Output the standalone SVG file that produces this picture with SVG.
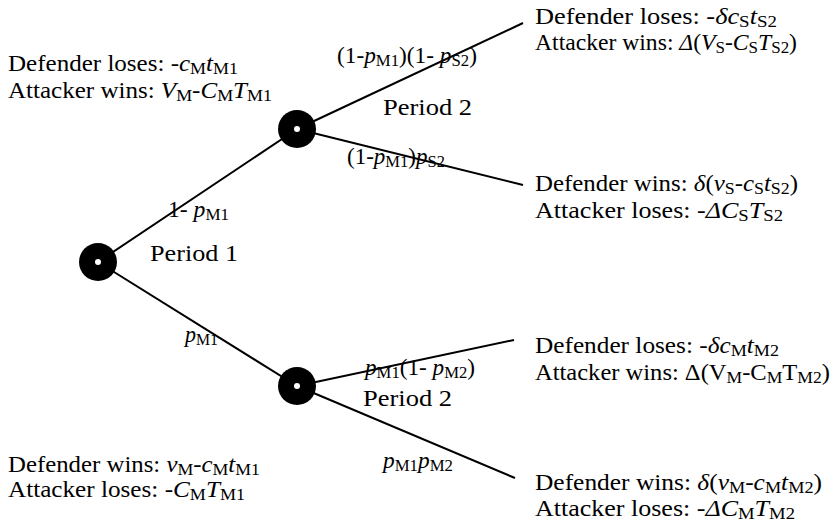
<svg xmlns="http://www.w3.org/2000/svg" width="836" height="528" viewBox="0 0 836 528">
<style>
text{font-family:"Liberation Serif","DejaVu Serif",serif;font-size:23px;fill:#000}
.i{font-style:italic}
.s{font-size:16.5px}
.edge{stroke:#000;stroke-width:2;fill:none}
.node{fill:#000}
.dot{fill:#fff}
</style>
<rect width="836" height="528" fill="#fff"/>
<g id="connectors">
<line class="edge" x1="98" y1="262" x2="297" y2="129"/>
<line class="edge" x1="98" y1="262" x2="297" y2="386"/>
<line class="edge" x1="297" y1="129" x2="523" y2="23"/>
<line class="edge" x1="297" y1="129" x2="523" y2="185"/>
<line class="edge" x1="297" y1="386" x2="514" y2="340"/>
<line class="edge" x1="297" y1="386" x2="515" y2="478"/>
</g>
<g id="n1"><circle class="node" cx="98" cy="262" r="19"/><circle class="dot" cx="98" cy="262" r="3"/></g>
<g id="n2"><circle class="node" cx="297" cy="129" r="19"/><circle class="dot" cx="297" cy="129" r="3"/></g>
<g id="n3"><circle class="node" cx="297" cy="386" r="19"/><circle class="dot" cx="297" cy="386" r="3"/></g>
<g id="labels">
<text x="8" y="71" textLength="230" lengthAdjust="spacingAndGlyphs">Defender loses: -<tspan class="i">c</tspan><tspan class="s" dy="3">M</tspan><tspan class="i" dy="-3">t</tspan><tspan class="s" dy="3">M1</tspan></text>
<text x="8" y="98" textLength="264" lengthAdjust="spacingAndGlyphs">Attacker wins: <tspan class="i">V</tspan><tspan class="s" dy="3">M</tspan><tspan dy="-3">-</tspan><tspan class="i">C</tspan><tspan class="s" dy="3">M</tspan><tspan class="i" dy="-3">T</tspan><tspan class="s" dy="3">M1</tspan></text>
<text x="168" y="217" textLength="61" lengthAdjust="spacingAndGlyphs">1- <tspan class="i">p</tspan><tspan class="s" dy="3">M1</tspan></text>
<text x="150" y="261" textLength="88" lengthAdjust="spacingAndGlyphs">Period 1</text>
<text x="185" y="342" textLength="33" lengthAdjust="spacingAndGlyphs"><tspan class="i">p</tspan><tspan class="s" dy="3">M1</tspan></text>
<text x="8" y="472" textLength="252" lengthAdjust="spacingAndGlyphs">Defender wins: <tspan class="i">v</tspan><tspan class="s" dy="3">M</tspan><tspan dy="-3">-</tspan><tspan class="i">c</tspan><tspan class="s" dy="3">M</tspan><tspan class="i" dy="-3">t</tspan><tspan class="s" dy="3">M1</tspan></text>
<text x="8" y="497" textLength="237" lengthAdjust="spacingAndGlyphs">Attacker loses: -<tspan class="i">C</tspan><tspan class="s" dy="3">M</tspan><tspan class="i" dy="-3">T</tspan><tspan class="s" dy="3">M1</tspan></text>
<text x="337" y="63" textLength="140" lengthAdjust="spacingAndGlyphs">(1-<tspan class="i">p</tspan><tspan class="s" dy="3">M1</tspan><tspan dy="-3">)(1- </tspan><tspan class="i">p</tspan><tspan class="s" dy="3">S2</tspan><tspan dy="-3">)</tspan></text>
<text x="383" y="115" textLength="89" lengthAdjust="spacingAndGlyphs">Period 2</text>
<text x="347" y="164" textLength="98" lengthAdjust="spacingAndGlyphs">(1-<tspan class="i">p</tspan><tspan class="s" dy="3">M1</tspan><tspan dy="-3">)</tspan><tspan class="i">p</tspan><tspan class="s" dy="3">S2</tspan></text>
<text x="535" y="24" textLength="242" lengthAdjust="spacingAndGlyphs">Defender loses: -<tspan class="i">δc</tspan><tspan class="s" dy="3">S</tspan><tspan class="i" dy="-3">t</tspan><tspan class="s" dy="3">S2</tspan></text>
<text x="535" y="50" textLength="262" lengthAdjust="spacingAndGlyphs">Attacker wins: <tspan class="i">Δ</tspan>(<tspan class="i">V</tspan><tspan class="s" dy="3">S</tspan><tspan dy="-3">-</tspan><tspan class="i">C</tspan><tspan class="s" dy="3">S</tspan><tspan class="i" dy="-3">T</tspan><tspan class="s" dy="3">S2</tspan><tspan dy="-3">)</tspan></text>
<text x="535" y="191" textLength="263" lengthAdjust="spacingAndGlyphs">Defender wins: <tspan class="i">δ</tspan>(<tspan class="i">v</tspan><tspan class="s" dy="3">S</tspan><tspan dy="-3">-</tspan><tspan class="i">c</tspan><tspan class="s" dy="3">S</tspan><tspan class="i" dy="-3">t</tspan><tspan class="s" dy="3">S2</tspan><tspan dy="-3">)</tspan></text>
<text x="535" y="218" textLength="248" lengthAdjust="spacingAndGlyphs">Attacker loses: -<tspan class="i">ΔC</tspan><tspan class="s" dy="3">S</tspan><tspan class="i" dy="-3">T</tspan><tspan class="s" dy="3">S2</tspan></text>
<text x="365" y="375" textLength="110" lengthAdjust="spacingAndGlyphs"><tspan class="i">p</tspan><tspan class="s" dy="3">M1</tspan><tspan dy="-3">(1- </tspan><tspan class="i">p</tspan><tspan class="s" dy="3">M2</tspan><tspan dy="-3">)</tspan></text>
<text x="363" y="406" textLength="89" lengthAdjust="spacingAndGlyphs">Period 2</text>
<text x="383" y="468" textLength="70" lengthAdjust="spacingAndGlyphs"><tspan class="i">p</tspan><tspan class="s" dy="3">M1</tspan><tspan class="i" dy="-3">p</tspan><tspan class="s" dy="3">M2</tspan></text>
<text x="535" y="353" textLength="244" lengthAdjust="spacingAndGlyphs">Defender loses: -<tspan class="i">δc</tspan><tspan class="s" dy="3">M</tspan><tspan class="i" dy="-3">t</tspan><tspan class="s" dy="3">M2</tspan></text>
<text x="535" y="380" textLength="295" lengthAdjust="spacingAndGlyphs">Attacker wins: Δ(V<tspan class="s" dy="3">M</tspan><tspan dy="-3">-C</tspan><tspan class="s" dy="3">M</tspan><tspan dy="-3">T</tspan><tspan class="s" dy="3">M2</tspan><tspan dy="-3">)</tspan></text>
<text x="535" y="490" textLength="287" lengthAdjust="spacingAndGlyphs">Defender wins: <tspan class="i">δ</tspan>(<tspan class="i">v</tspan><tspan class="s" dy="3">M</tspan><tspan dy="-3">-</tspan><tspan class="i">c</tspan><tspan class="s" dy="3">M</tspan><tspan class="i" dy="-3">t</tspan><tspan class="s" dy="3">M2</tspan><tspan dy="-3">)</tspan></text>
<text x="535" y="516" textLength="260" lengthAdjust="spacingAndGlyphs">Attacker loses: -<tspan class="i">ΔC</tspan><tspan class="s" dy="3">M</tspan><tspan class="i" dy="-3">T</tspan><tspan class="s" dy="3">M2</tspan></text>
</g>
</svg>
